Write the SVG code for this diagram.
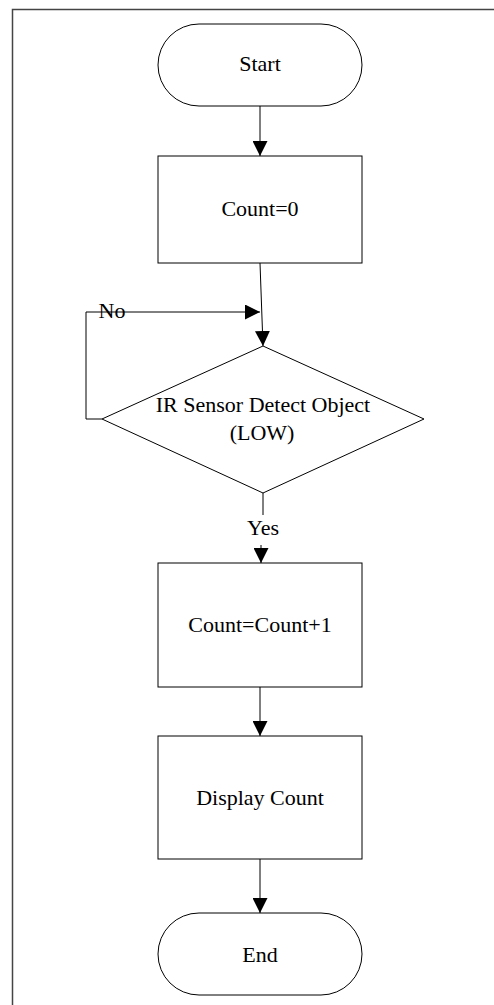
<svg xmlns="http://www.w3.org/2000/svg" width="494" height="1005" viewBox="0 0 494 1005">
<style>
.shape{fill:#fff;stroke:#000;stroke-width:1}
.conn{fill:none;stroke:#000;stroke-width:1}
text{font-family:"Liberation Serif","Times New Roman",serif;font-size:22px;fill:#000;text-anchor:middle}
</style>
<defs>
<marker id="arr" markerWidth="15" markerHeight="15" refX="15" refY="7.5" orient="auto" markerUnits="userSpaceOnUse">
<path d="M0,0 L15,7.5 L0,15 Z" fill="#000"/>
</marker>
</defs>
<rect x="12.5" y="9.5" width="500" height="1010" fill="none" stroke="#444" stroke-width="1.5"/>
<g id="connectors">
<line class="conn" x1="260" y1="106" x2="260" y2="156" marker-end="url(#arr)"/>
<line class="conn" x1="260" y1="263" x2="263" y2="346" marker-end="url(#arr)"/>
<polyline class="conn" points="102,419 86,419 86,312 260,312" marker-end="url(#arr)"/>
<line class="conn" x1="263" y1="493" x2="263" y2="515"/>
<line class="conn" x1="261" y1="545" x2="261" y2="563" marker-end="url(#arr)"/>
<line class="conn" x1="260" y1="687" x2="260" y2="736" marker-end="url(#arr)"/>
<line class="conn" x1="260" y1="859" x2="260" y2="913" marker-end="url(#arr)"/>
<text x="112" y="318">No</text>
<text x="263" y="535">Yes</text>
</g>
<g id="start">
<rect class="shape" x="158" y="24" width="204" height="82" rx="41" ry="41"/>
<text x="260" y="71">Start</text>
</g>
<g id="init">
<rect class="shape" x="158" y="156" width="204" height="107"/>
<text x="260" y="216">Count=0</text>
</g>
<g id="decision">
<polygon class="shape" points="263,346 424,419 263,493 102,419"/>
<text x="263" y="412">IR Sensor Detect Object</text>
<text x="262" y="440">(LOW)</text>
</g>
<g id="increment">
<rect class="shape" x="158" y="563" width="204" height="124"/>
<text x="260" y="632">Count=Count+1</text>
</g>
<g id="display">
<rect class="shape" x="158" y="736" width="204" height="123"/>
<text x="260" y="805">Display Count</text>
</g>
<g id="end">
<rect class="shape" x="158" y="913" width="204" height="82" rx="41" ry="41"/>
<text x="260" y="962">End</text>
</g>
</svg>
